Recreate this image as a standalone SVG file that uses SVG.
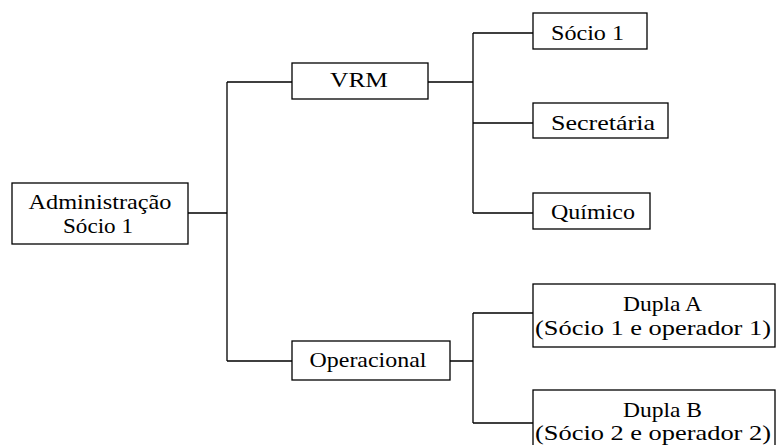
<svg xmlns="http://www.w3.org/2000/svg" width="776" height="445" viewBox="0 0 776 445">
<style>
.box{fill:#fff;stroke:#000;stroke-width:1.3}
.ln{fill:none;stroke:#000;stroke-width:1.3}
.t{font-family:'Liberation Serif','Times New Roman',Tinos,serif;font-size:21px;fill:#000;text-anchor:middle}
</style>
<rect width="776" height="445" fill="#fff"/>
<g id="connectors">
<path class="ln" d="M188,213 H227 M227,82 V361 M227,82 H292 M227,361 H292"/>
<path class="ln" d="M428,82 H473 M473,33 V213 M473,33 H533 M473,123 H533 M473,213 H533"/>
<path class="ln" d="M450,361 H473 M473,313 V423 M473,313 H533 M473,423 H533"/>
</g>
<g id="admin">
<rect class="box" x="12" y="183" width="176" height="61"/>
<text class="t" font-family="Liberation Serif" x="100" y="209" textLength="143" lengthAdjust="spacingAndGlyphs">Administração</text>
<text class="t" font-family="Liberation Serif" x="98" y="233" textLength="70" lengthAdjust="spacingAndGlyphs">Sócio 1</text>
</g>
<g id="vrm">
<rect class="box" x="292" y="63" width="136" height="36"/>
<text class="t" font-family="Liberation Serif" x="359" y="87" textLength="58" lengthAdjust="spacingAndGlyphs">VRM</text>
</g>
<g id="operacional">
<rect class="box" x="292" y="341" width="158" height="39"/>
<text class="t" font-family="Liberation Serif" x="368" y="367" textLength="117" lengthAdjust="spacingAndGlyphs">Operacional</text>
</g>
<g id="socio1">
<rect class="box" x="533" y="13" width="114" height="36"/>
<text class="t" font-family="Liberation Serif" x="587.5" y="40" textLength="73" lengthAdjust="spacingAndGlyphs">Sócio 1</text>
</g>
<g id="secretaria">
<rect class="box" x="533" y="103" width="135" height="35"/>
<text class="t" font-family="Liberation Serif" x="603" y="130" textLength="104" lengthAdjust="spacingAndGlyphs">Secretária</text>
</g>
<g id="quimico">
<rect class="box" x="533" y="193" width="117" height="36"/>
<text class="t" font-family="Liberation Serif" x="593" y="219" textLength="84" lengthAdjust="spacingAndGlyphs">Químico</text>
</g>
<g id="duplaA">
<rect class="box" x="533" y="284" width="242" height="63"/>
<text class="t" font-family="Liberation Serif" x="662.5" y="311" textLength="79" lengthAdjust="spacingAndGlyphs">Dupla A</text>
<text class="t" font-family="Liberation Serif" x="653" y="335" textLength="236" lengthAdjust="spacingAndGlyphs">(Sócio 1 e operador 1)</text>
</g>
<g id="duplaB">
<rect class="box" x="533" y="390" width="242" height="70"/>
<text class="t" font-family="Liberation Serif" x="662.5" y="417" textLength="79" lengthAdjust="spacingAndGlyphs">Dupla B</text>
<text class="t" font-family="Liberation Serif" x="653" y="440" textLength="236" lengthAdjust="spacingAndGlyphs">(Sócio 2 e operador 2)</text>
</g>
</svg>
